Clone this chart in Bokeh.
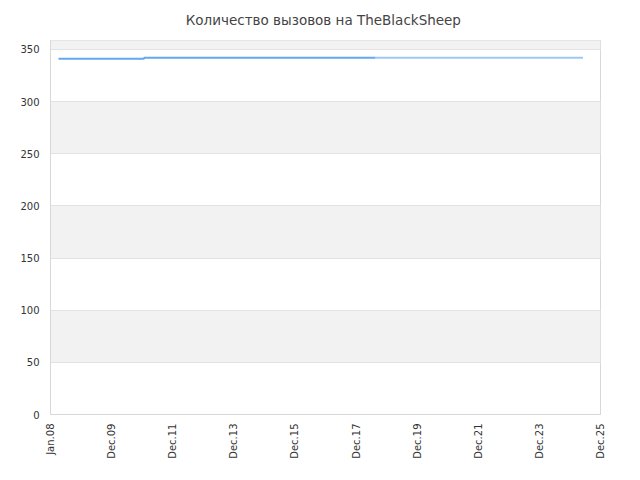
import pandas as pd
from bokeh.plotting import figure
from bokeh.models import Range1d, FixedTicker, DatetimeTickFormatter, ColumnDataSource
from bokeh.embed import file_html
from bokeh.resources import INLINE

title_text = "Количество вызовов на  TheBlackSheep"

# main series (dark part)
dark_dates = ["2008-04-05", "2011-01-20", "2011-01-20", "2018-08-10"]
dark_values = [341, 341, 342, 342]
# later, lighter part of the series
light_dates = ["2018-08-10", "2025-05-15"]
light_values = [342, 342]

x_start = pd.Timestamp("2008-01-01")
x_end = pd.Timestamp("2025-12-10")
n_ticks = 10
y_ticks = [0, 50, 100, 150, 200, 250, 300, 350]
band_ticks = [50, 100, 150, 200, 250, 300, 350, 400]
y_max = 358.6

def ms(t):
    return pd.Timestamp(t).value // 10**6

p = figure(width=624, height=464, x_axis_type="datetime",
           output_backend="svg", toolbar_location=None,
           x_range=Range1d(ms(x_start), ms(x_end)),
           y_range=Range1d(0, y_max),
           min_border_left=50, min_border_right=24,
           min_border_top=40, min_border_bottom=50)

p.title.text = title_text
p.title.align = "center"
p.title.text_font = "DejaVu Sans"
p.title.text_font_size = "13.5px"
p.title.text_font_style = "normal"
p.title.text_color = "#444444"
p.title.standoff = 22
p.title.vertical_align = "top"

src_dark = ColumnDataSource(dict(x=[ms(d) for d in dark_dates], y=dark_values))
src_light = ColumnDataSource(dict(x=[ms(d) for d in light_dates], y=light_values))
p.line("x", "y", source=src_dark, line_color="#62a8f2", line_width=2)
p.line("x", "y", source=src_light, line_color="#9ec8f4", line_width=2)

span = (x_end - x_start) / (n_ticks - 1)
xt = [ms(x_start + k * span) for k in range(n_ticks)]
p.xaxis.ticker = FixedTicker(ticks=xt)
fmt = "%b.%y"
p.xaxis.formatter = DatetimeTickFormatter(milliseconds=fmt, seconds=fmt, minsec=fmt,
                                          minutes=fmt, hourmin=fmt, hours=fmt,
                                          days=fmt, months=fmt, years=fmt)
p.xaxis.major_label_orientation = 3.14159265 / 2
p.yaxis.ticker = FixedTicker(ticks=y_ticks)

for ax in (p.xaxis, p.yaxis):
    ax.major_tick_line_color = None
    ax.minor_tick_line_color = None
    ax.major_tick_out = 0
    ax.major_tick_in = 0
    ax.axis_line_color = "#d8d8d8"
    ax.major_label_text_font = "DejaVu Sans"
    ax.major_label_text_font_size = "10px"
    ax.major_label_text_color = "#333333"
p.yaxis.major_label_standoff = 11
p.xaxis.major_label_standoff = 9

p.xgrid.grid_line_color = None
p.ygrid.ticker = FixedTicker(ticks=band_ticks)
p.ygrid.grid_line_color = "#e2e2e2"
p.ygrid.band_fill_color = "#f2f2f2"
p.ygrid.band_fill_alpha = 1.0
p.outline_line_color = "#d8d8d8"
p.background_fill_color = "white"

open("out.html", "w").write(file_html(p, INLINE))
